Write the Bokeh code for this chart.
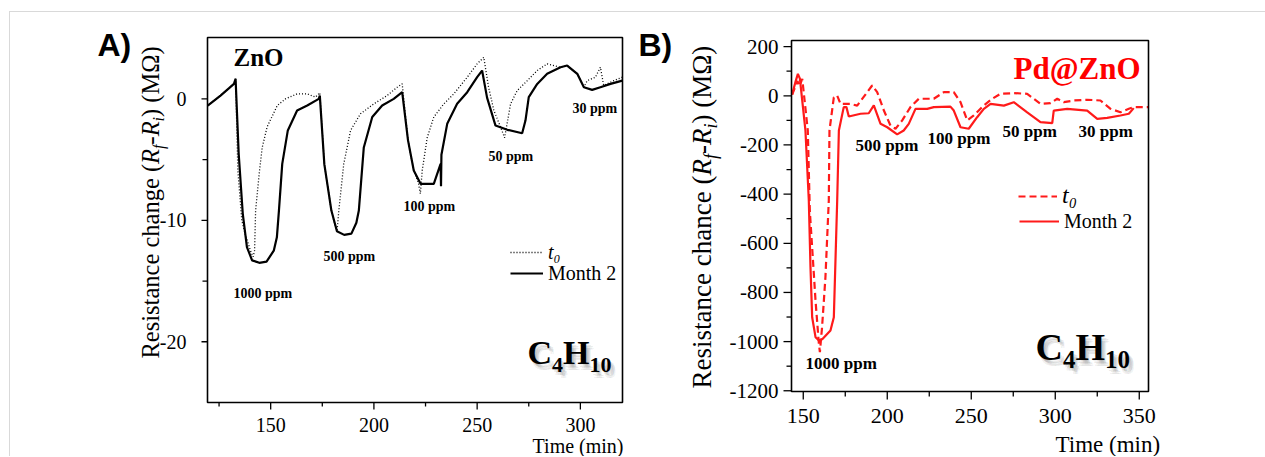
from math import pi
from bokeh.plotting import figure
from bokeh.models import Legend, LegendItem, Range1d
from bokeh.core.properties import value
from bokeh.layouts import row
from bokeh.embed import file_html
from bokeh.resources import INLINE

# ---------------- data ----------------
# Panel A: ZnO, C4H10 response, resistance change (MOhm) vs time (min)
zno_m2_time = [119.5, 125.7, 130.0, 132.2, 133.0, 134.5, 136.5, 138.5, 141.0, 144.5,
               148.0, 151.5, 153.0, 154.0, 155.6, 158.3, 162.8, 167.7, 173.3, 173.8,
               176.0, 179.4, 182.1, 185.6, 189.1, 191.5, 192.7, 195.1, 199.2, 204.0,
               209.6, 213.7, 216.5, 219.3, 222.6, 229.0, 232.3, 232.5, 232.7, 235.5,
               240.3, 245.2, 250.0, 252.4, 254.8, 258.9, 264.6, 271.8, 273.4, 275.0,
               279.1, 283.9, 290.4, 293.6, 298.5, 301.7, 305.7, 309.7, 314.6, 320.3]
zno_m2_resp = [-0.55, 0.27, 0.9, 1.23, 1.65, -4.5, -9.5, -12.2, -13.3, -13.5,
               -13.4, -12.5, -11.4, -9.2, -5.35, -2.6, -0.96, -0.55, 0.0, 0.27,
               -5.4, -9.2, -10.9, -11.2, -11.1, -10.2, -9.2, -4.0, -1.5, -0.55,
               0.0, 0.55, -3.4, -5.9, -7.0, -7.0, -5.35, -7.2, -4.6, -2.06,
               -0.41, 0.55, 1.78, 2.33, 0.1, -2.2, -2.55, -2.83, -1.79, 0.14,
               1.23, 2.06, 2.6, 2.74, 2.06, 0.96, 0.74, 0.96, 1.23, 1.5]

zno_t0_time = [119.5, 125.7, 130.0, 132.2, 133.0, 134.1, 136.0, 137.6, 140.2, 141.5,
               142.2, 142.7, 144.6, 145.9, 148.3, 153.2, 157.2, 162.8, 167.7, 171.7,
               173.8, 176.0, 179.4, 181.3, 182.2, 183.0, 185.4, 188.7, 193.5, 200.0,
               206.4, 211.3, 213.7, 216.5, 219.3, 221.5, 222.5, 223.4, 225.8, 229.0,
               233.9, 238.7, 245.2, 250.0, 253.2, 255.5, 258.1, 261.3, 263.3, 266.2,
               269.4, 274.3, 279.1, 283.9, 290.4, 293.6, 298.5, 301.7, 303.3, 307.3,
               309.7, 311.3, 316.2, 320.3]
zno_t0_resp = [-0.55, 0.27, 0.9, 1.23, 1.65, -5.9, -10.0, -11.1, -12.5, -13.0,
               -12.5, -9.2, -5.9, -4.0, -2.3, -0.55, 0.0, 0.41, 0.41, 0.14,
               0.5, -5.4, -9.2, -10.5, -10.8, -9.2, -5.35, -2.6, -1.23, -0.41,
               0.27, 0.96, 1.23, -3.4, -5.9, -6.9, -7.8, -5.9, -3.2, -1.5,
               -0.41, 0.41, 1.78, 2.88, 3.42, 1.0, -0.96, -2.3, -3.2, -0.41,
               0.68, 1.5, 2.33, 2.88, 2.6, 2.74, 2.06, 0.96, 1.5, 1.78,
               2.6, 1.1, 1.5, 1.78]

# Panel B: Pd@ZnO
pdzno_m2_time = [143.4, 145.5, 146.8, 148.0, 151.3, 153.3, 154.3, 155.3, 157.3, 159.3,
                 161.3, 166.2, 168.2, 170.2, 171.2, 174.1, 175.7, 177.1, 184.1, 189.0,
                 192.0, 196.0, 200.0, 205.9, 209.8, 212.8, 216.8, 223.8, 227.7, 237.6,
                 239.6, 243.6, 248.5, 253.5, 257.5, 261.5, 269.4, 275.3, 283.3, 291.2,
                 298.2, 299.1, 307.1, 319.0, 325.0, 330.9, 338.8, 343.8, 346.7]
pdzno_m2_resp = [5, 60, 89, 70, -141, -426, -697, -901, -982, -995,
                 -990, -955, -901, -426, -141, -46, -46, -84, -73, -71,
                 -39, -114, -128, -157, -141, -114, -53, -53, -46, -44,
                 -60, -128, -134, -87, -53, -33, -40, -26, -67, -107,
                 -111, -60, -53, -60, -94, -90, -80, -73, -50]

pdzno_t0_time = [143.4, 146.5, 147.8, 149.4, 150.5, 152.7, 153.9, 157.3, 159.3, 159.9,
                 161.2, 163.2, 165.2, 165.6, 168.2, 170.2, 172.2, 178.1, 182.1, 188.1,
                 191.0, 194.0, 198.0, 201.9, 204.9, 208.9, 213.8, 218.8, 227.7, 233.7,
                 239.6, 243.6, 247.6, 251.5, 257.5, 262.5, 267.4, 275.3, 283.3, 291.2,
                 297.2, 301.2, 305.1, 311.0, 319.0, 326.9, 332.9, 338.8, 343.8, 346.7,
                 355.5]
pdzno_t0_resp = [5, 60, 40, 69, 0, -141, -467, -833, -1009, -1043,
                 -941, -738, -426, -141, -6, 1, -33, -33, -40, 15,
                 42, 15, -60, -121, -134, -100, -46, -12, -12, 15,
                 15, -26, -100, -80, -39, -12, 8, 11, 8, -33,
                 -30, -12, -26, -19, -16, -19, -53, -67, -53, -46,
                 -46]

assert len(zno_m2_time) == len(zno_m2_resp)
assert len(zno_t0_time) == len(zno_t0_resp)
assert len(pdzno_m2_time) == len(pdzno_m2_resp)
assert len(pdzno_t0_time) == len(pdzno_t0_resp)

zno_xticks = [150, 200, 250, 300]
zno_xminor = [125, 175, 225, 275]
zno_yticks = [-20, -10, 0]
zno_yminor = [-15, -5]
pdzno_xticks = [150, 200, 250, 300, 350]
pdzno_xminor = [175, 225, 275, 325]
pdzno_yticks = [200, 0, -200, -400, -600, -800, -1000, -1200]
pdzno_yminor = [100, -100, -300, -500, -700, -900, -1100]

zno_conc_labels = ["1000 ppm", "500 ppm", "100 ppm", "50 ppm", "30 ppm"]
pdzno_conc_labels = ["1000 ppm", "500 ppm", "100 ppm", "50 ppm", "30 ppm"]
series_labels = ["t\u2080", "Month 2"]

# ---------------- helpers ----------------
SERIF = "Liberation Serif"
SANS = "Liberation Sans"
MID = 0.31   # distance (in em) from the text baseline up to the "middle" anchor

W_REG = {' ': 250, '(': 333, ')': 333, '-': 333, 'R': 667, 'e': 444, 's': 389, 'i': 278,
         't': 278, 'a': 444, 'n': 500, 'c': 444, 'h': 500, 'g': 500, 'M': 889, '\u03a9': 768}
W_IT = {'R': 611, 'f': 278, 'i': 278, 't': 278}
W_BOLD = {'C': 722, 'H': 778, '4': 500, '1': 500, '0': 500}


def tw(s, size, table):
    return sum(table.get(c, 500) for c in s) / 1000.0 * size


class Panel:
    """A canvas (page pixels cl..cr, ct..cb) holding a plot box (page pixels l..r, t..b)
    that shows data x0..x1, y0..y1."""

    def __init__(self, cl, cr, ct, cb, l, r, t, b, x0, x1, y0, y1):
        self.cl, self.cr, self.ct, self.cb = cl, cr, ct, cb
        self.l, self.r, self.t, self.b = l, r, t, b
        self.x0, self.x1, self.y0, self.y1 = x0, x1, y0, y1
        self.kx = (x1 - x0) / (r - l)     # data per pixel
        self.ky = (y1 - y0) / (b - t)

    def dx(self, px):
        return self.x0 + (px - self.l) * self.kx

    def dy(self, py):
        return self.y1 - (py - self.t) * self.ky

    def fig(self):
        p = figure(width=self.cr - self.cl, height=self.cb - self.ct,
                   x_range=Range1d(self.cl, self.cr), y_range=Range1d(self.cb, self.ct),
                   x_axis_type=None, y_axis_type=None,
                   output_backend="svg", toolbar_location=None, min_border=0)
        p.extra_x_ranges = {"t": Range1d(self.dx(self.cl), self.dx(self.cr))}
        p.extra_y_ranges = {"v": Range1d(self.dy(self.cb), self.dy(self.ct))}
        p.outline_line_color = None
        p.background_fill_color = "white"
        p.border_fill_color = "white"
        p.grid.visible = False
        self.p = p
        return p

    def text(self, xp, yp, text, size, style="normal", font=SERIF, color="black",
             align="left", angle=0.0, alpha=1.0):
        # (xp, yp) is the start of the baseline; anchor the text at its middle
        if angle:
            xp -= MID * size
        else:
            yp -= MID * size
        self.p.text(x=[xp], y=[yp], text=[text], angle=angle,
                    text_font=value(font), text_font_size=f"{size}px",
                    text_font_style=style, text_color=color, text_align=align,
                    text_baseline="middle", text_alpha=alpha)

    def box(self, width):
        self.p.quad(left=[self.x0], right=[self.x1], bottom=[self.y0], top=[self.y1],
                    fill_color=None, line_color="black", line_width=width,
                    x_range_name="t", y_range_name="v")

    def xticks(self, ticks, minor, major_len, minor_len, size, baseline_px):
        p = self
        for tk, ln in ((ticks, major_len), (minor, minor_len)):
            self.p.segment(x0=tk, y0=[p.y0] * len(tk), x1=tk, y1=[p.y0 - ln * p.ky] * len(tk),
                           line_color="black", line_width=1.3,
                           x_range_name="t", y_range_name="v")
        self.p.text(x=ticks, y=[p.dy(baseline_px - MID * size)] * len(ticks),
                    text=[str(v) for v in ticks],
                    text_font=value(SERIF), text_font_size=f"{size}px", text_color="black",
                    text_align="center", text_baseline="middle",
                    x_range_name="t", y_range_name="v")

    def yticks(self, ticks, minor, major_len, minor_len, size, right_px):
        p = self
        for tk, ln in ((ticks, major_len), (minor, minor_len)):
            self.p.segment(x0=[p.x0] * len(tk), y0=tk, x1=[p.x0 - ln * p.kx] * len(tk), y1=tk,
                           line_color="black", line_width=1.3,
                           x_range_name="t", y_range_name="v")
        self.p.text(x=[p.dx(right_px)] * len(ticks), y=ticks, text=[str(v) for v in ticks],
                    text_font=value(SERIF), text_font_size=f"{size}px", text_color="black",
                    text_align="right", text_baseline="middle",
                    x_range_name="t", y_range_name="v")

    def vlabel(self, xp, yp_start, pieces):
        y = yp_start
        for text, size, style, shift in pieces:
            self.text(xp + shift, y, text, size, style, angle=pi / 2)
            y -= tw(text, size, W_IT if style == "italic" else W_REG)

    def formula(self, xp, yp, big, small, drop):
        pieces = [("C", big, 0), ("4", small, drop), ("H", big, 0), ("10", small, drop)]
        # soft drop shadow first, then the formula itself
        for ox, oy, a in [(2, 3, 0.10), (4, 4, 0.10), (3, 6, 0.08), (5, 6, 0.06), (1, 1, 0.06)]:
            x = xp
            for text, size, dy in pieces:
                self.text(x + ox, yp + dy + oy, text, size, "bold", color="#333333", alpha=a)
                x += tw(text, size, W_BOLD)
        x = xp
        for text, size, dy in pieces:
            self.text(x, yp + dy, text, size, "bold")
            x += tw(text, size, W_BOLD)

    def legend(self, renderer, label, style, size, left_px, center_px, glyph_w):
        loc = (left_px - self.cl, self.cb - center_px - 12)
        leg = Legend(items=[LegendItem(label=value(label), renderers=[renderer])],
                     location=loc, padding=0, margin=0, spacing=0,
                     glyph_width=glyph_w, glyph_height=24, label_height=24,
                     label_standoff=5, label_text_font=SERIF, label_text_color="black",
                     label_text_font_size=f"{size}px", label_text_font_style=style,
                     background_fill_alpha=0, border_line_alpha=0)
        self.p.add_layout(leg)


# ---------------- panel A: ZnO ----------------
A = Panel(10, 634, 12, 456, 207, 622, 37, 402, 119.4, 320.4, -25.0, 5.05)
pA = A.fig()
rA_t0 = pA.line(zno_t0_time, zno_t0_resp, line_color="black", line_width=1.3, line_dash="1 2",
                x_range_name="t", y_range_name="v")
rA_m2 = pA.line(zno_m2_time, zno_m2_resp, line_color="black", line_width=2.2,
                x_range_name="t", y_range_name="v")
A.box(1.6)
A.xticks(zno_xticks, zno_xminor, 7, 4, 20, 431)
A.yticks(zno_yticks, zno_yminor, 6, 5, 20, 186)
A.legend(rA_t0, series_labels[0], "italic", 20, 510, 252, 33)
A.legend(rA_m2, series_labels[1], "normal", 20, 510, 273, 33)

A.text(97, 54, "A)", 32, "bold", font=SANS)
A.text(233, 65, "ZnO", 25, "bold")
for lab, (xp, yp) in zip(zno_conc_labels, [(233, 297), (323, 260), (403, 210), (488, 160), (572, 112)]):
    A.text(xp, yp, lab, 14, "bold")
A.formula(527, 363, 34, 22, 8)
A.text(623, 452, "Time (min)", 20, align="right")
A.vlabel(158, 358, [("Resistance change (", 24.5, "normal", 0),
                    ("R", 24.5, "italic", 0), ("f", 16, "italic", 5),
                    ("-", 24.5, "normal", 0),
                    ("R", 24.5, "italic", 0), ("i", 16, "italic", 5),
                    (") (M\u03a9)", 24.5, "normal", 0)])

# ---------------- panel B: Pd@ZnO ----------------
B = Panel(634, 1265, 12, 456, 791, 1148, 40, 391, 143.0, 355.5, -1203.0, 225.0)
pB = B.fig()
RED = "#ff1a1a"
rB_t0 = pB.line(pdzno_t0_time, pdzno_t0_resp, line_color=RED, line_width=2.2, line_dash="7 4",
                x_range_name="t", y_range_name="v")
rB_m2 = pB.line(pdzno_m2_time, pdzno_m2_resp, line_color=RED, line_width=2.2,
                x_range_name="t", y_range_name="v")
B.box(1.6)
B.xticks(pdzno_xticks, pdzno_xminor, 8, 5, 22, 422)
B.yticks(pdzno_yticks, pdzno_yminor, 8, 5, 21, 778)
B.legend(rB_t0, series_labels[0], "italic", 24, 1018, 197, 39)
B.legend(rB_m2, series_labels[1], "normal", 20, 1019, 221, 40)

B.text(638, 54, "B)", 32, "bold", font=SANS)
B.text(1013, 78, "Pd@ZnO", 31, "bold", color="#ff0000")
for lab, (xp, yp) in zip(pdzno_conc_labels, [(805, 368), (855, 150), (927, 143), (1002, 136), (1078, 136)]):
    B.text(xp, yp, lab, 17, "bold")
B.formula(1035, 358, 38, 25, 9)
B.text(1055, 451, "Time (min)", 23)
B.vlabel(710, 388, [("Resistance chance (", 27, "normal", 0),
                    ("R", 27, "italic", 0), ("f", 18, "italic", 6),
                    ("-", 27, "normal", 0),
                    ("R", 27, "italic", 0), ("i", 18, "italic", 6),
                    (") (M\u03a9)", 27, "normal", 0)])

layout = row(pA, pB, margin=(11, 0, 0, 9),
             styles={"border-top": "1px solid #d9d9d9", "border-left": "1px solid #d9d9d9"})

open("out.html", "w").write(file_html(layout, INLINE))
